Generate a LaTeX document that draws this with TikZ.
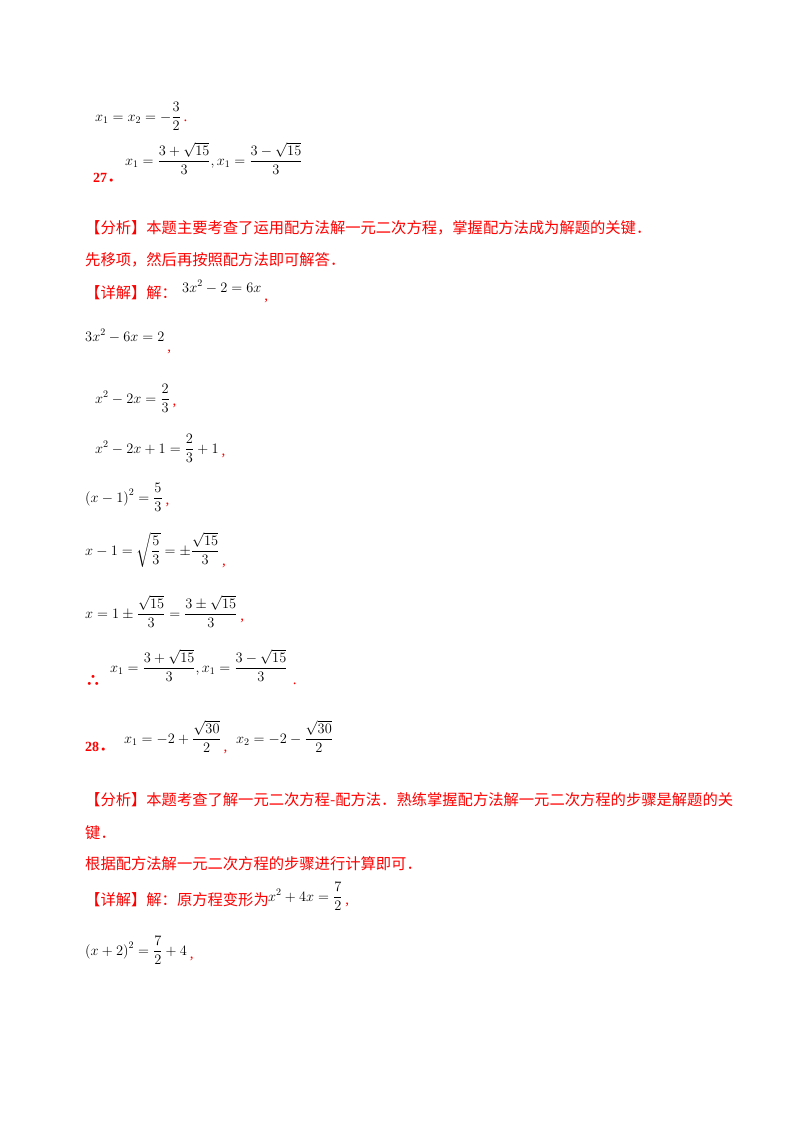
\documentclass[tikz,border=0pt]{standalone}
\usepackage{amsmath}
\usepackage{fontspec}
\setmainfont{Liberation Serif}
\newfontfamily\cjk{Noto Sans CJK SC}
\usepackage{xcolor}
\definecolor{rd}{RGB}{255,0,0}
\begin{document}
\begin{tikzpicture}[x=1pt,y=-1pt,
  zh/.style={anchor=west,inner sep=0,text=rd,font=\cjk\fontsize{15.3}{18}\selectfont},
  mth/.style={anchor=base west,inner sep=0,font=\fontsize{14.5}{17}\selectfont},
  pu/.style={anchor=base west,inner sep=0,text=rd,font=\fontsize{15}{17}\selectfont}]
\useasboundingbox[fill=white] (0,0) rectangle (800,1132);
\node[mth] (a1) at (95,121) {$x_1=x_2=-\dfrac{3}{2}$};
\node[pu] (p1) at (a1.base east) {\,.};
\node[pu,font=\bfseries\fontsize{14}{17}\selectfont] (n27) at (93,182) {27\cjk．};
\node[mth] (a2) at (125,165) {$x_1=\dfrac{3+\sqrt{15}}{3},x_1=\dfrac{3-\sqrt{15}}{3}$};
\node[zh] (t1) at (85,228) {【分析】本题主要考查了运用配方法解一元二次方程，掌握配方法成为解题的关键．};
\node[zh] (t2) at (85,260) {先移项，然后再按照配方法即可解答．};
\node[zh] (t3) at (85,293) {【详解】解：};
\node[mth] (a3) at (182,292) {$3x^2-2=6x$};
\node[pu] (c3) at ([yshift=-8]a3.base east) {\,,};
\node[mth] (a4) at (85,341) {$3x^2-6x=2$};
\node[pu] (c4) at ([yshift=-10]a4.base east) {\,,};
\node[mth] (a5) at (95,403) {$x^2-2x=\dfrac{2}{3}$};
\node[pu] (c5) at ([yshift=-2]a5.base east) {\,,};
\node[mth] (a6) at (95,453) {$x^2-2x+1=\dfrac{2}{3}+1$};
\node[pu] (c6) at ([yshift=-2]a6.base east) {\,,};
\node[mth] (a7) at (85,502) {$\left(x-1\right)^2=\dfrac{5}{3}$};
\node[pu] (c7) at ([yshift=-2]a7.base east) {\,,};
\node[mth] (a8) at (85,555) {$x-1=\sqrt{\dfrac{5}{3}}=\pm\dfrac{\sqrt{15}}{3}$};
\node[pu] (c8) at ([yshift=-10]a8.base east) {\,,};
\node[mth] (a9) at (85,618) {$x=1\pm\dfrac{\sqrt{15}}{3}=\dfrac{3\pm\sqrt{15}}{3}$};
\node[pu] (c9) at ([yshift=-2]a9.base east) {\,,};
\node[pu,font=\cjk\bfseries\fontsize{16}{20}\selectfont] (th) at (85,686) {∴};
\node[mth] (a10) at (110,672) {$x_1=\dfrac{3+\sqrt{15}}{3},x_1=\dfrac{3-\sqrt{15}}{3}$};
\node[pu] (c10) at ([yshift=-12]a10.base east) {\,\,.};
\node[pu,font=\bfseries\fontsize{14}{17}\selectfont] (n28) at (85,751) {28\cjk．};
\node[mth] (a11) at (124,743) {$x_1=-2+\dfrac{\sqrt{30}}{2}$};
\node[pu] (c11) at ([yshift=-8]a11.base east) {\,,};
\node[mth] (a12) at (236,743) {$x_2=-2-\dfrac{\sqrt{30}}{2}$};
\node[zh] (t4) at (85,800) {【分析】本题考查了解一元二次方程-配方法．熟练掌握配方法解一元二次方程的步骤是解题的关};
\node[zh] (t5) at (85,833) {键．};
\node[zh] (t6) at (85,864) {根据配方法解一元二次方程的步骤进行计算即可．};
\node[zh] (t7) at (85,900) {【详解】解：原方程变形为};
\node[mth] (a13) at (268,901) {$x^2+4x=\dfrac{7}{2}$};
\node[pu] (c13) at ([yshift=-3]a13.base east) {\,,};
\node[mth] (a14) at (85,955) {$\left(x+2\right)^2=\dfrac{7}{2}+4$};
\node[pu] (c14) at ([yshift=-3]a14.base east) {\,,};
\end{tikzpicture}
\end{document}
